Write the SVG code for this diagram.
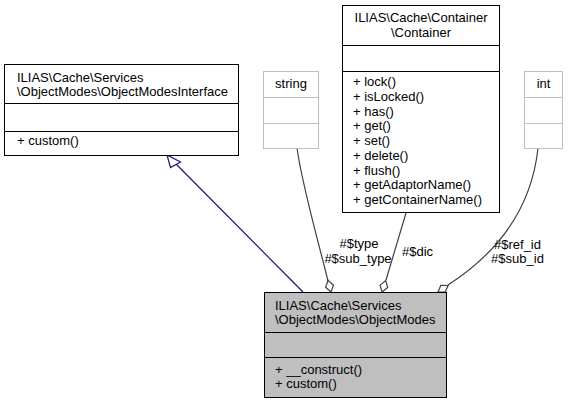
<svg xmlns="http://www.w3.org/2000/svg" width="569" height="404" viewBox="0 0 569 404">
<style>
text{font-family:"Liberation Sans",Arial,Helvetica,sans-serif;font-size:13px;fill:#000}
.box{fill:#fff;stroke:#000;stroke-width:1}
.grey{fill:#fff;stroke:#bfbfbf;stroke-width:1}
.cur{fill:#bfbfbf;stroke:#000;stroke-width:1}
.ln{fill:none;stroke:#000;stroke-width:1}
.lg{fill:none;stroke:#bfbfbf;stroke-width:1}
.inh{fill:none;stroke:#191970;stroke-width:1.2}
.agg{fill:none;stroke:#404040;stroke-width:1.2}
.m{text-anchor:middle}
</style>
<rect width="569" height="404" fill="#fff"/>
<g id="connectors">
<path class="inh" d="M303,292 L175,163"/>
<polygon points="167,155 170.5,167.5 180.5,162" fill="#fff" stroke="#191970" stroke-width="1.2"/>
<path class="agg" d="M297,148 C302,185 318,240 328,281"/>
<polygon points="331,292 333.4,285.2 328.1,280.4 325.6,287.2" fill="#fff" stroke="#404040" stroke-width="1.2"/>
<text class="m" x="359" y="248">#$type</text>
<text class="m" x="358" y="263">#$sub_type</text>
<path class="agg" d="M406,213 L386,280"/>
<polygon points="382,292 387.7,287.5 385.7,280.6 380.1,285.1" fill="#fff" stroke="#404040" stroke-width="1.2"/>
<text class="m" x="417.5" y="256">#$dic</text>
<path class="agg" d="M538,148 C533,195 510,245 448,285"/>
<polygon points="438,292 445.2,292 448.1,285.5 440.8,285.3" fill="#fff" stroke="#404040" stroke-width="1.2"/>
<text class="m" x="517.5" y="249">#$ref_id</text>
<text class="m" x="517.5" y="263">#$sub_id</text>
</g>
<g id="ObjectModesInterface">
<rect class="box" x="4.5" y="64.5" width="234" height="91"/>
<path class="ln" d="M4.5,103.5 H238.5 M4.5,131.5 H238.5"/>
<text x="17" y="82">ILIAS\Cache\Services</text>
<text x="17" y="95.5">\ObjectModes\ObjectModesInterface</text>
<text x="17" y="145">+ custom()</text>
</g>
<g id="string">
<rect class="grey" x="263.5" y="71.5" width="55" height="77"/>
<path class="lg" d="M263.5,97.5 H318.5 M263.5,123.5 H318.5"/>
<text class="m" x="291" y="88">string</text>
</g>
<g id="Container">
<rect class="box" x="342.5" y="5.5" width="157" height="207"/>
<path class="ln" d="M342.5,45.5 H499.5 M342.5,71.5 H499.5"/>
<text class="m" x="421" y="22">ILIAS\Cache\Container</text>
<text class="m" x="421" y="36.5">\Container</text>
<text x="353" y="86">+ lock()</text>
<text x="353" y="100.75">+ isLocked()</text>
<text x="353" y="115.5">+ has()</text>
<text x="353" y="130.25">+ get()</text>
<text x="353" y="145">+ set()</text>
<text x="353" y="159.75">+ delete()</text>
<text x="353" y="174.5">+ flush()</text>
<text x="353" y="189.25">+ getAdaptorName()</text>
<text x="353" y="204">+ getContainerName()</text>
</g>
<g id="int">
<rect class="grey" x="524.5" y="71.5" width="38" height="77"/>
<path class="lg" d="M524.5,97.5 H562.5 M524.5,123.5 H562.5"/>
<text class="m" x="543.5" y="88">int</text>
</g>
<g id="ObjectModes">
<rect class="cur" x="264.5" y="292.5" width="182" height="105"/>
<path class="ln" d="M264.5,332.5 H446.5 M264.5,357.5 H446.5"/>
<text x="275" y="310">ILIAS\Cache\Services</text>
<text x="275" y="323.5">\ObjectModes\ObjectModes</text>
<text x="275" y="374">+ __construct()</text>
<text x="275" y="387.5">+ custom()</text>
</g>
</svg>
